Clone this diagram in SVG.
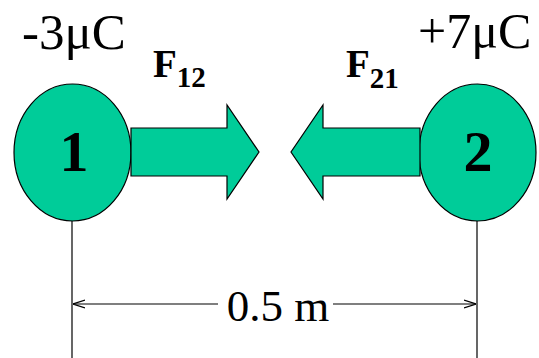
<svg xmlns="http://www.w3.org/2000/svg" width="539" height="358" viewBox="0 0 539 358">
<style>
.shape{fill:#00CC99;stroke:#000;stroke-width:1.2}
.ln{stroke:#000;stroke-width:1.2;fill:none}
.t{font-family:"Liberation Serif","Times New Roman",serif;fill:#000}
.b{font-weight:bold}
</style>
<defs>
<marker id="ah" viewBox="0 0 12 10" refX="12" refY="5" markerWidth="12" markerHeight="10" markerUnits="userSpaceOnUse" orient="auto-start-reverse">
<path d="M0,1 L12,5 L0,9" fill="none" stroke="#000" stroke-width="1.2"/>
</marker>
</defs>
<g id="connectors">
<line class="ln" x1="72" y1="221" x2="72" y2="358"/>
<line class="ln" x1="477" y1="221" x2="477" y2="358"/>
<line class="ln" x1="218" y1="304" x2="73" y2="304" marker-end="url(#ah)"/>
<line class="ln" x1="333" y1="304" x2="476" y2="304" marker-end="url(#ah)"/>
<text class="t" x="278" y="321" font-size="45" text-anchor="middle">0.5 m</text>
</g>
<g id="charge1">
<ellipse class="shape" cx="72.5" cy="152.5" rx="58.5" ry="68.5"/>
<text class="t b" x="74" y="171" font-size="58" text-anchor="middle">1</text>
<text class="t" x="22" y="49" font-size="51">-3μC</text>
</g>
<g id="charge2">
<ellipse class="shape" cx="477.5" cy="152.5" rx="58.5" ry="68.5"/>
<text class="t b" x="478" y="171" font-size="58" text-anchor="middle">2</text>
<text class="t" x="418" y="48" font-size="50">+7μC</text>
</g>
<g id="force12">
<polygon class="shape" points="131,128 227,128 227,105 259,152 227,199 227,176 131,176"/>
<text class="t b" x="153" y="77" font-size="39">F<tspan font-size="29" dy="10">12</tspan></text>
</g>
<g id="force21">
<polygon class="shape" points="420,128 323,128 323,105 291,152 323,199 323,176 420,176"/>
<text class="t b" x="346" y="77" font-size="39">F<tspan font-size="29" dy="11">21</tspan></text>
</g>
</svg>
